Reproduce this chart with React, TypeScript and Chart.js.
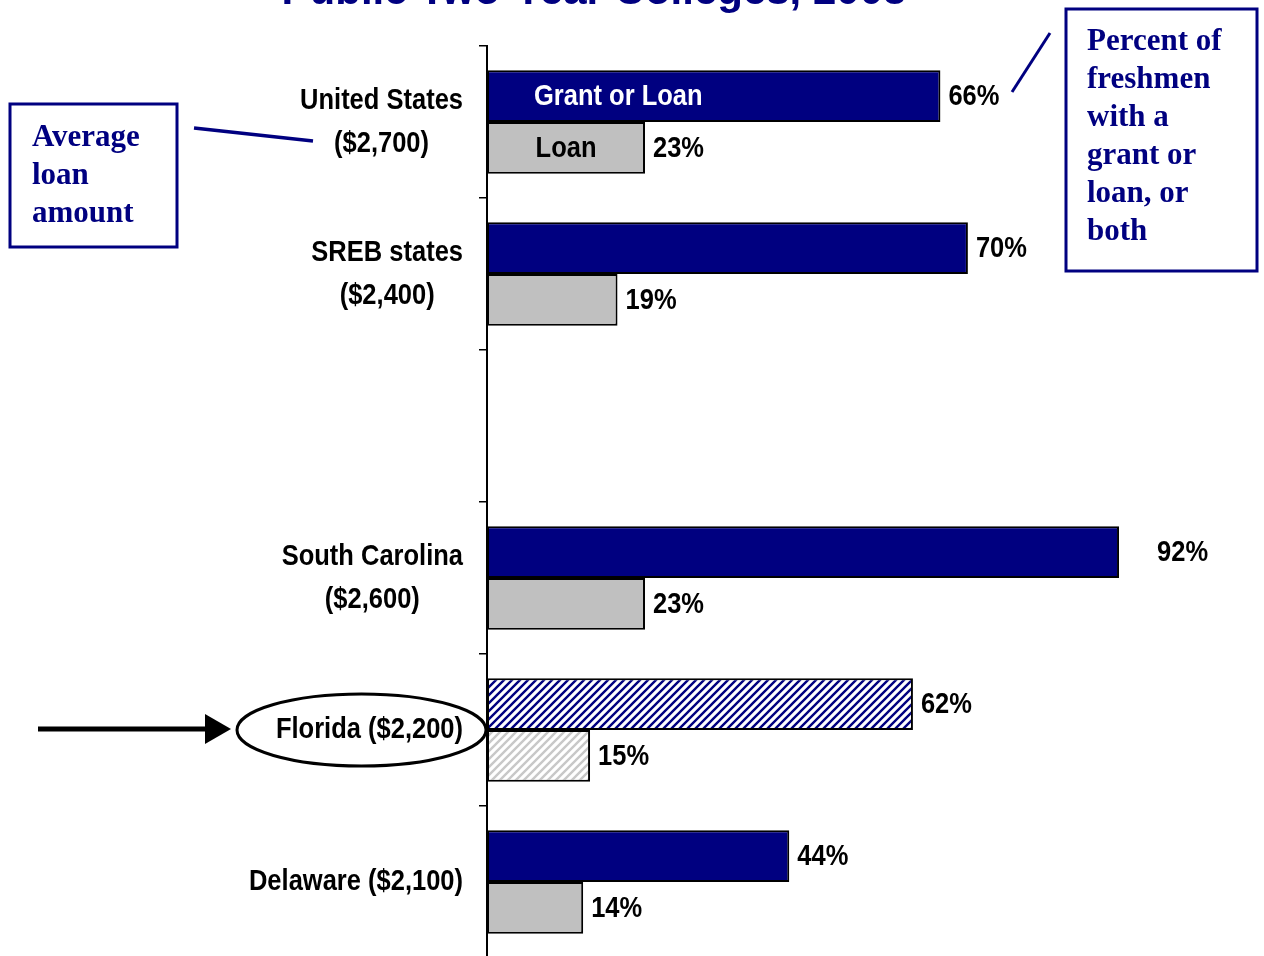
import { useEffect, useRef } from "react";
import { Chart, registerables } from "chart.js";

Chart.register(...registerables);

const chartTitle = "Public Two-Year Colleges, 2003";
const tickLabels: (string | string[])[] = [
  ["United States", "($2,700)"],
  ["SREB states", "($2,400)"],
  "",
  ["South Carolina", "($2,600)"],
  "Florida ($2,200)",
  "Delaware ($2,100)",
];
const grantOrLoan: (number | null)[] = [66, 70, null, 92, 62, 44];
const loanOnly: (number | null)[] = [23, 19, null, 23, 15, 14];
const highlighted = [false, false, false, false, true, false];
const seriesNames = ["Grant or Loan", "Loan"];
const leftNote = ["Average", "loan", "amount"];
const rightNote = ["Percent of", "freshmen", "with a", "grant or", "loan, or", "both"];

const NAVY = "#000080";
const GRAY = "#C0C0C0";
const SANS = '"Liberation Sans", Arial, sans-serif';
const SERIF = '"Liberation Serif", "Times New Roman", serif';
const NARROW_SCALE = 0.85;
const NARROW_FONT = `bold 30px ${SANS}`;

function makeHatch(color: string): CanvasPattern | string {
  const c = document.createElement("canvas");
  c.width = 8;
  c.height = 8;
  const g = c.getContext("2d");
  if (!g) return color;
  g.fillStyle = "#ffffff";
  g.fillRect(0, 0, 8, 8);
  g.strokeStyle = color;
  g.lineWidth = 2.4;
  g.beginPath();
  g.moveTo(-2, 2);
  g.lineTo(2, -2);
  g.moveTo(0, 8);
  g.lineTo(8, 0);
  g.moveTo(6, 10);
  g.lineTo(10, 6);
  g.stroke();
  const p = g.createPattern(c, "repeat");
  return p || color;
}

function narrowWidth(ctx: CanvasRenderingContext2D, text: string) {
  ctx.save();
  ctx.font = NARROW_FONT;
  const w = ctx.measureText(text).width * NARROW_SCALE;
  ctx.restore();
  return w;
}

// narrow bold text (Arial Narrow look) by horizontal compression
function narrowText(
  ctx: CanvasRenderingContext2D,
  text: string,
  x: number,
  y: number,
  align: CanvasTextAlign,
  color: string
) {
  ctx.save();
  ctx.translate(x, y);
  ctx.scale(NARROW_SCALE, 1);
  ctx.font = NARROW_FONT;
  ctx.textAlign = align;
  ctx.textBaseline = "middle";
  ctx.fillStyle = color;
  ctx.fillText(text, 0, 0);
  ctx.restore();
}

export default function App() {
  const ref = useRef<HTMLCanvasElement | null>(null);

  useEffect(() => {
    if (!ref.current) return;
    const navyHatch = makeHatch(NAVY);
    const grayHatch = makeHatch("#C8C8C8");

    const overlay = {
      id: "overlay",
      afterDraw(chart: any) {
        const ctx = chart.ctx as CanvasRenderingContext2D;
        ctx.save();
        // title (cut off at top)
        ctx.fillStyle = NAVY;
        ctx.font = `bold 42px ${SANS}`;
        ctx.textAlign = "center";
        ctx.textBaseline = "alphabetic";
        ctx.fillText(chartTitle, 594, 4);

        // category labels from the y scale: block right-aligned, lines centred
        const yScale = chart.scales.y;
        const labelRight = yScale.right - 24;
        tickLabels.forEach((lab, i) => {
          const cy = yScale.getPixelForValue(i);
          const lines = Array.isArray(lab) ? lab : [lab];
          const maxW = Math.max(...lines.map((t) => narrowWidth(ctx, t)));
          const cx = labelRight - maxW / 2;
          const lh = 43;
          lines.forEach((t, k) => {
            const ly = cy + (k - (lines.length - 1) / 2) * lh;
            narrowText(ctx, t, cx, ly, "center", "#000");
          });
        });

        // value labels
        chart.data.datasets.forEach((ds: any, di: number) => {
          const meta = chart.getDatasetMeta(di);
          meta.data.forEach((el: any, i: number) => {
            const v = ds.data[i];
            if (v === null || v === undefined) return;
            const p = el.getProps(["x", "y", "base"], true);
            const off = v >= 90 ? 38 : 8;
            narrowText(ctx, `${v}%`, p.x + off, p.y + 1, "left", "#000");
            if (i === 0) {
              if (di === 0) {
                narrowText(ctx, seriesNames[0], p.base + 47, p.y + 1, "left", "#ffffff");
              } else {
                narrowText(ctx, seriesNames[1], (p.base + p.x) / 2, p.y + 1, "center", "#000");
              }
            }
          });
        });

        // left note box
        ctx.strokeStyle = NAVY;
        ctx.lineWidth = 3;
        ctx.strokeRect(10, 104, 167, 143);
        ctx.fillStyle = NAVY;
        ctx.font = `bold 31px ${SERIF}`;
        ctx.textAlign = "left";
        ctx.textBaseline = "alphabetic";
        leftNote.forEach((t, k) => ctx.fillText(t, 32, 146 + k * 38));
        ctx.lineWidth = 3.5;
        ctx.beginPath();
        ctx.moveTo(194, 128);
        ctx.lineTo(313, 141);
        ctx.stroke();

        // right note box
        ctx.lineWidth = 3;
        ctx.strokeRect(1066, 9, 191, 262);
        rightNote.forEach((t, k) => ctx.fillText(t, 1087, 50 + k * 38));
        ctx.beginPath();
        ctx.moveTo(1012, 92);
        ctx.lineTo(1050, 33);
        ctx.stroke();

        // Florida highlight ellipse and arrow
        ctx.strokeStyle = "#000";
        ctx.lineWidth = 3;
        ctx.beginPath();
        ctx.ellipse(361.5, 730, 124.5, 36, 0, 0, Math.PI * 2);
        ctx.stroke();
        ctx.lineWidth = 5;
        ctx.beginPath();
        ctx.moveTo(38, 729);
        ctx.lineTo(210, 729);
        ctx.stroke();
        ctx.fillStyle = "#000";
        ctx.beginPath();
        ctx.moveTo(231, 729);
        ctx.lineTo(205, 714);
        ctx.lineTo(205, 744);
        ctx.closePath();
        ctx.fill();
        ctx.restore();
      },
    };

    const chart = new Chart(ref.current, {
      type: "bar",
      data: {
        labels: tickLabels,
        datasets: [
          {
            label: seriesNames[0],
            data: grantOrLoan,
            backgroundColor: highlighted.map((h) => (h ? navyHatch : NAVY)) as any,
            borderColor: "#000",
            borderWidth: 2,
            borderSkipped: false,
            categoryPercentage: 0.68,
            barPercentage: 1,
          },
          {
            label: seriesNames[1],
            data: loanOnly,
            backgroundColor: highlighted.map((h) => (h ? grayHatch : GRAY)) as any,
            borderColor: "#000",
            borderWidth: 2,
            borderSkipped: false,
            categoryPercentage: 0.68,
            barPercentage: 1,
          },
        ],
      },
      options: {
        indexAxis: "y",
        responsive: false,
        animation: false,
        layout: { padding: { top: 46, right: 90, bottom: 2, left: 0 } },
        scales: {
          x: { display: false, min: 0, max: 100 },
          y: {
            afterFit: (s: any) => {
              s.width = 487;
              s.paddingTop = 0;
              s.paddingBottom = 0;
            },
            grid: {
              display: true,
              drawOnChartArea: false,
              drawTicks: true,
              tickLength: 8,
              color: "#000",
              lineWidth: 1.5,
              offset: true,
            },
            border: { display: true, color: "#000", width: 2 },
            ticks: { display: false, autoSkip: false },
          },
        },
        plugins: { legend: { display: false }, tooltip: { enabled: false } },
      },
      plugins: [overlay],
    });
    return () => chart.destroy();
  }, []);

  return (
    <div
      style={{
        position: "fixed",
        left: 0,
        top: 0,
        width: 1264,
        height: 956,
        overflow: "hidden",
        background: "#fff",
      }}
    >
      <canvas ref={ref} width={1264} height={960} style={{ display: "block", width: 1264, height: 960 }} />
    </div>
  );
}
